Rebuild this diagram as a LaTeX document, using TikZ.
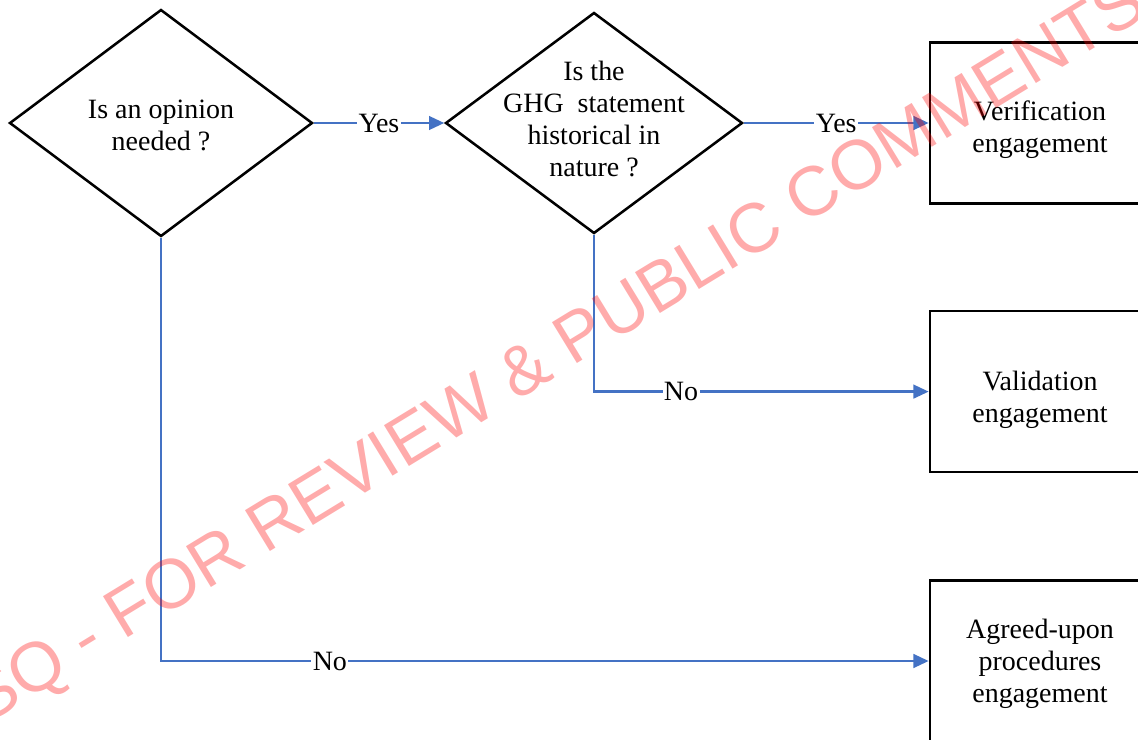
\documentclass[tikz,border=0pt]{standalone}
\usepackage{fontspec}
\setmainfont{Liberation Serif}
\newfontfamily\marksans{Liberation Sans}
\usetikzlibrary{arrows.meta,positioning,shapes.geometric}
\definecolor{linkblue}{HTML}{4472C4}

\begin{document}
\begin{tikzpicture}[
  font=\fontsize{19.9}{22.7}\selectfont,
  decision/.style={diamond,draw=black,line width=1.8pt,inner sep=0pt},
  qtext/.style={align=center,inner sep=0pt},
  outcome/.style={rectangle,draw=black,line width=1.9pt,minimum width=5.5cm,minimum height=4.025cm},
  link/.style={-{Triangle[length=3.8mm,width=3.4mm]},draw=linkblue,line width=1.7pt},
  answer/.style={fill=white,inner sep=1pt}
]
\clip (0,0) rectangle (28.45,-18.5);
\fill[white] (0,0) rectangle (28.45,-18.5);
% questions
\node[decision,minimum width=7.575cm,minimum height=5.675cm] (q1) at (4.025,-3.075) {};
\node[qtext] (q1t) at ([yshift=-0.07cm]q1) {Is an opinion\\needed ?};
\node[decision,minimum width=7.425cm,minimum height=5.525cm] (q2) at (14.85,-3.075) {};
\node[qtext] (q2t) at ([yshift=0.1cm]q2) {Is the\\GHG~ statement\\historical in\\nature ?};
% engagements
\node[outcome] (verif) at (26.0,-3.075) {};
\node[qtext] (verift) at ([yshift=-0.17cm]verif) {Verification\\engagement};
\node[outcome] (valid) at (26.0,-9.79) {};
\node[qtext] (validt) at ([yshift=-0.2cm]valid) {Validation\\engagement};
\node[outcome] (agreed) at (26.0,-16.525) {};
\node[qtext] (agreedt) at ([yshift=-0.07cm]agreed) {Agreed-upon\\procedures\\engagement};
\draw[link] (q1) -- node[answer] {Yes} (q2);
\draw[link] (q2) -- node[answer] {Yes} (verif);
\draw[link] (q2.south) |- node[answer,pos=0.63] {No} (valid);
\draw[link] (q1.south) |- node[answer,pos=0.61] {No} (agreed);
% watermark
\node[font=\marksans\fontsize{49.5}{49.5}\selectfont,text=red,text opacity=0.33,rotate=31.4] (mark) at (13.965,-8.87) {SQ - FOR REVIEW \& PUBLIC COMMENTS};
\end{tikzpicture}
\end{document}
